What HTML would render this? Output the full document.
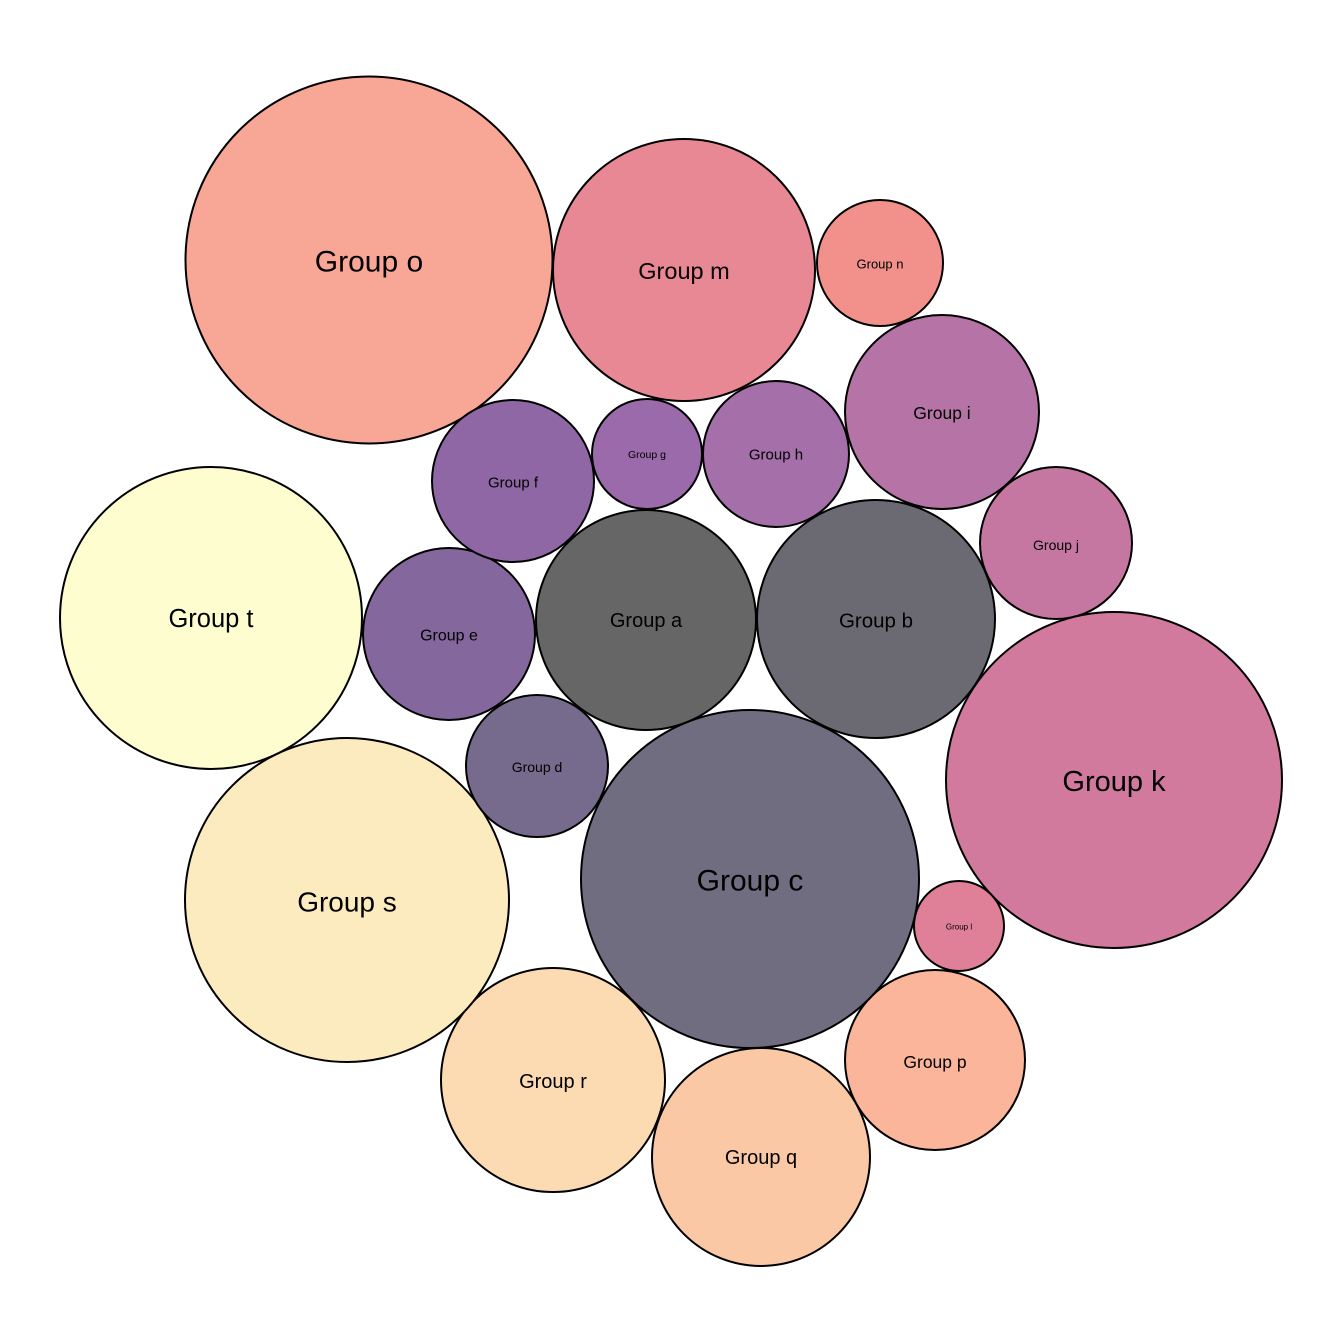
<!DOCTYPE html>
<html><head><style>body{margin:0;background:#fff}svg{display:block}text{font-family:"Liberation Sans",Arial,sans-serif;text-anchor:middle;dominant-baseline:central;fill:#000}circle{stroke:#000;stroke-width:2}</style></head>
<body>
<svg width="1344" height="1344" viewBox="0 0 1344 1344">
<circle cx="369" cy="260" r="183.5" fill="#F8A796"/><text x="369" y="262" font-size="30">Group o</text>
<circle cx="684" cy="270" r="131" fill="#E98895"/><text x="684" y="271" font-size="23.5">Group m</text>
<circle cx="880" cy="263" r="63" fill="#F2918B"/><text x="880" y="264" font-size="13">Group n</text>
<circle cx="942" cy="412" r="97" fill="#B574A5"/><text x="942" y="413" font-size="17.5">Group i</text>
<circle cx="1056" cy="543" r="76" fill="#C577A1"/><text x="1056" y="545" font-size="14">Group j</text>
<circle cx="1114" cy="780" r="168" fill="#D17A9E"/><text x="1114" y="782" font-size="29">Group k</text>
<circle cx="959" cy="926" r="45" fill="#E07F98"/><text x="959" y="927" font-size="8">Group l</text>
<circle cx="935" cy="1060" r="90" fill="#FAB59A"/><text x="935" y="1062" font-size="17.5">Group p</text>
<circle cx="761" cy="1157" r="109" fill="#FBC8A5"/><text x="761" y="1158" font-size="20">Group q</text>
<circle cx="553" cy="1080" r="112" fill="#FCDBB2"/><text x="553" y="1082" font-size="20">Group r</text>
<circle cx="347" cy="900" r="162" fill="#FDEBC0"/><text x="347" y="902" font-size="28">Group s</text>
<circle cx="211" cy="618" r="151" fill="#FDFDD0"/><text x="211" y="619" font-size="25.5">Group t</text>
<circle cx="750" cy="879" r="169" fill="#716D80"/><text x="750" y="881" font-size="30">Group c</text>
<circle cx="537" cy="766" r="71" fill="#776B8D"/><text x="537" y="767" font-size="14">Group d</text>
<circle cx="449" cy="634" r="86" fill="#84679D"/><text x="449" y="636" font-size="16">Group e</text>
<circle cx="646" cy="620" r="110" fill="#666666"/><text x="646" y="621" font-size="20">Group a</text>
<circle cx="876" cy="619" r="119" fill="#6B6A73"/><text x="876" y="621" font-size="20.5">Group b</text>
<circle cx="513" cy="481" r="81" fill="#8E67A4"/><text x="513" y="483" font-size="15">Group f</text>
<circle cx="647" cy="454" r="55" fill="#9A6AAA"/><text x="647" y="455" font-size="10.5">Group g</text>
<circle cx="776" cy="454" r="73" fill="#A570A9"/><text x="776" y="455" font-size="15">Group h</text>
</svg>
</body></html>
